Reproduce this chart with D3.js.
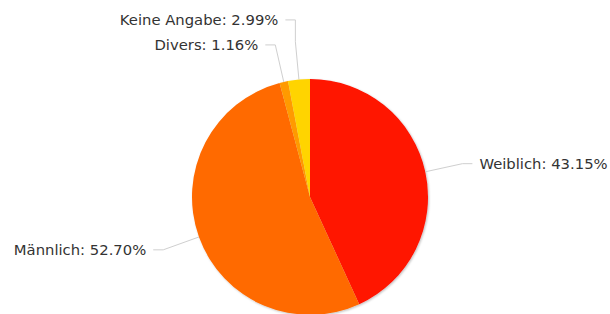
<!DOCTYPE html>
<html>
<head>
<meta charset="utf-8">
<script src="https://cdn.jsdelivr.net/npm/d3@7"></script>
<style>
  body { margin: 0; background: #fff; }
  svg { display: block; }
</style>
</head>
<body>
<div id="chart"></div>
<script>
// data
var categories = ["Weiblich", "Männlich", "Divers", "Keine Angabe"]
var shares = [43.15, 52.70, 1.16, 2.99]
var sliceColors = ["#ff1200", "#ff6a00", "#ff9a00", "#ffd400"]

var width = 610, height = 314
var cx = 310, cy = 197, radius = 118
var bendDist = 38, tail = 10, pad = 7, minGap = 25

var svg = d3.select("#chart").append("svg")
    .attr("width", width)
    .attr("height", height)

var defs = svg.append("defs")
var f = defs.append("filter").attr("id", "shadow")
    .attr("x", "-10%").attr("y", "-10%").attr("width", "120%").attr("height", "120%")
f.append("feDropShadow")
    .attr("dx", 1).attr("dy", 1).attr("stdDeviation", 1.2)
    .attr("flood-color", "#000").attr("flood-opacity", 0.25)

var data = categories.map((c, i) => ({name: c, value: shares[i], color: sliceColors[i]}))

var pie = d3.pie().sort(null).value(d => d.value)
var arcs = pie(data)

var arc = d3.arc().innerRadius(0).outerRadius(radius)

var g = svg.append("g").attr("transform", "translate(" + cx + "," + cy + ")")

g.append("g")
    .attr("filter", "url(#shadow)")
  .selectAll("path")
  .data(arcs)
  .join("path")
    .attr("fill", d => d.data.color)
    .attr("d", arc)

// label positions
arcs.forEach(d => {
  var a = (d.startAngle + d.endAngle) / 2
  d.edge = [radius * Math.sin(a), -radius * Math.cos(a)]
  d.bend = [(radius + bendDist) * Math.sin(a), -(radius + bendDist) * Math.cos(a)]
  d.left = a > Math.PI
  d.ly = d.bend[1]
})

// push overlapping labels upward (per side)
;[true, false].forEach(side => {
  var list = arcs.filter(d => d.left === side).sort((a, b) => b.ly - a.ly)
  for (var i = 1; i < list.length; i++) {
    if (list[i - 1].ly - list[i].ly < minGap) list[i].ly = list[i - 1].ly - minGap
  }
})

g.append("g")
  .selectAll("path")
  .data(arcs)
  .join("path")
    .attr("fill", "none")
    .attr("stroke", "#cfcfcf")
    .attr("stroke-width", 1)
    .attr("d", d => {
      var s = d.left ? -1 : 1
      var x = d.bend[0]
      return "M" + (x + s * tail) + "," + d.ly +
        "L" + x + "," + d.ly +
        "L" + d.bend[0] + "," + d.bend[1] +
        "L" + d.edge[0] + "," + d.edge[1]
    })

g.append("g")
    .attr("font-family", "DejaVu Sans, Verdana, sans-serif")
    .attr("font-size", 14.8)
    .attr("fill", "#333")
  .selectAll("text")
  .data(arcs)
  .join("text")
    .attr("text-anchor", d => d.left ? "end" : "start")
    .attr("x", d => d.bend[0] + (d.left ? -1 : 1) * (tail + pad))
    .attr("y", d => d.ly)
    .attr("dy", "0.35em")
    .text(d => d.data.name + ": " + d.data.value.toFixed(2) + "%")
</script>
</body>
</html>
